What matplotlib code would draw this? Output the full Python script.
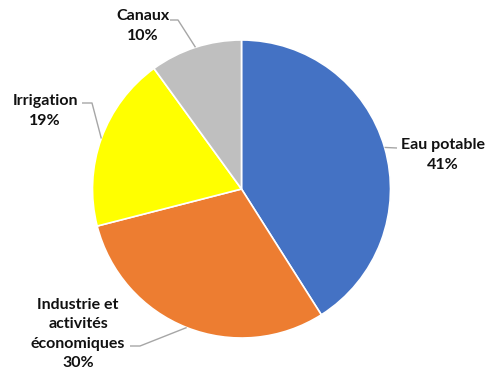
import numpy as np
import matplotlib.pyplot as plt

labels = ["Eau potable", "Industrie et\nactivités\néconomiques", "Irrigation", "Canaux"]
shares = [41, 30, 19, 10]
colors = ["#4472C4", "#ED7D31", "#FFFF00", "#BFBFBF"]

# label anchor (pixels from top-left) and elbow of the leader line
text_pos = [(443, 155), (78, 334), (45, 111), (143, 26)]
elbows = [(397, 148), (140, 346), (92, 103), (178, 20)]
line_ends = [(397, 148), (130, 346), (82, 103), (170, 20)]

W, H = 486, 376
cx, cy, r = 241.5, H - 189, 149

fig = plt.figure(figsize=(W / 100, H / 100), dpi=100)
ax = fig.add_axes([0, 0, 1, 1])

wedges, _ = ax.pie(shares, colors=colors, startangle=90, counterclock=False,
                   center=(cx, cy), radius=r, frame=True,
                   wedgeprops=dict(edgecolor="white", linewidth=1.2))
ax.set_xlim(0, W)
ax.set_ylim(0, H)
ax.set_aspect("equal")
ax.axis("off")

for w, lab, val, tp, el, le in zip(wedges, labels, shares, text_pos, elbows, line_ends):
    mid = np.deg2rad((w.theta1 + w.theta2) / 2)
    px, py = cx + r * np.cos(mid), cy + r * np.sin(mid)
    ax.plot([px, el[0], le[0]], [py, H - el[1], H - le[1]],
            color="#A6A6A6", lw=1.0, solid_capstyle="butt")
    ax.text(tp[0], H - tp[1], f"{lab}\n{val}%", ha="center", va="center",
            fontsize=11.5, fontweight="bold", family="Lato",
            linespacing=1.5, color="#111111")

fig.savefig("out.png", dpi=100)
